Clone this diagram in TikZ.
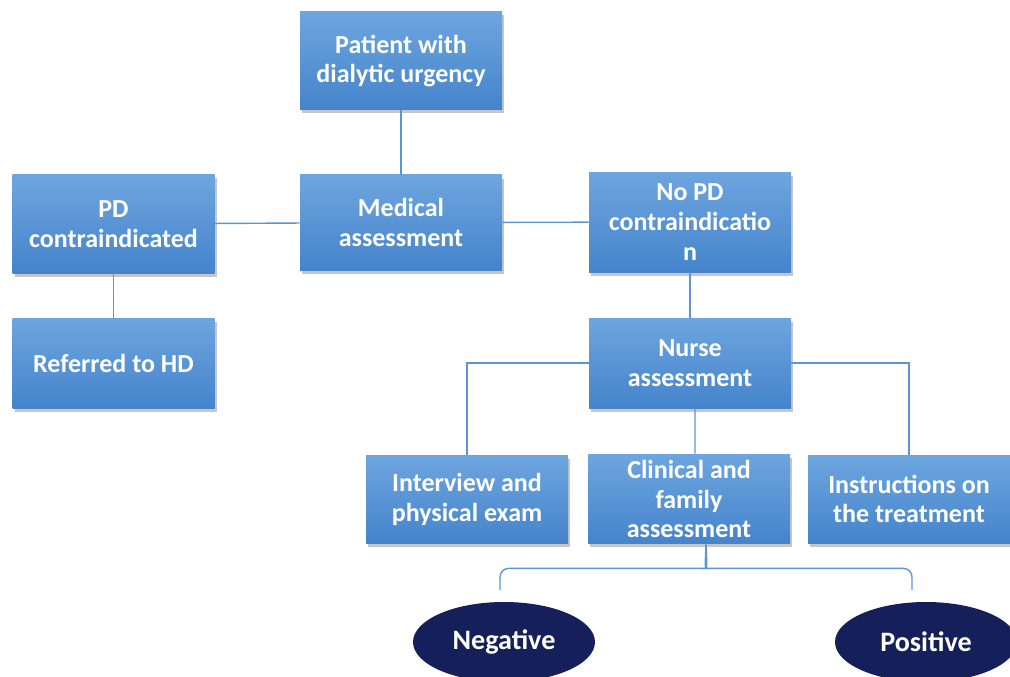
\documentclass[tikz,border=0pt]{standalone}
\usepackage{fontspec}
\setmainfont{Carlito}
\usetikzlibrary{shadows,shapes.geometric,calc}
\definecolor{boxtop}{HTML}{6DA5DF}
\definecolor{boxbot}{HTML}{4584CB}
\definecolor{linkblue}{HTML}{5B95D5}
\definecolor{navy}{HTML}{15205A}
\begin{document}
\begin{tikzpicture}[
    box/.style={rectangle, top color=boxtop, bottom color=boxbot, draw=none, minimum width=4.04cm, minimum height=1.9cm, align=center, text=white, font=\fontsize{14.8}{17}\selectfont\bfseries, drop shadow={opacity=0.45, shadow xshift=0.04cm, shadow yshift=-0.07cm}},
    outcome/.style={ellipse, fill=navy, draw=none, minimum width=3.64cm, minimum height=1.6cm, text=white, font=\fontsize{16}{19}\selectfont\bfseries},
    link/.style={draw=linkblue, line width=0.8pt}
]
    \useasboundingbox (0,0) rectangle (20.2,-13.54);

    % Einstieg
    \node[box, minimum height=1.96cm] (patient) at (8.02,-1.22) {Patient with\\dialytic urgency};
    \node[box] (medical) at (8.02,-4.45) {Medical\\assessment};

    % links
    \node[box, minimum height=1.96cm] (pdci) at (2.27,-4.48) {PD\\contraindicated};
    \node[box, minimum height=1.8cm] (referred) at (2.27,-7.26) {Referred to HD};

    % rechts
    \node[box, minimum height=2cm] (nopd) at (13.8,-4.44) {No PD\\contraindicatio\\n};
    \node[box, minimum height=1.8cm] (nurse) at (13.8,-7.26) {Nurse\\assessment};

    % Pflege-Zweige
    \node[box, minimum height=1.76cm] (interview) at (9.34,-9.98) {Interview and\\physical exam};
    \node[box, minimum height=1.76cm] (clinical) at (13.78,-9.98) {Clinical and\\family\\assessment};
    \node[box, minimum height=1.76cm] (instructions) at (18.18,-9.98) {Instructions on\\the treatment};

    % Ergebnis
    \node[outcome] (negative) at (10.08,-12.84) {Negative};
    \node[outcome] (positive) at (18.52,-12.84) {Positive};
    \coordinate (braceL) at (10.0,-11.8);
    \coordinate (braceR) at (18.24,-11.8);
    \coordinate (braceTip) at ([xshift=0.34cm]clinical.south);

    % Linien
    \draw[link] (patient) -- (medical);
    \draw[link] (pdci) -- (medical);
    \draw[link] (medical) -- (nopd);
    \draw[link] (pdci) -- (referred);
    \draw[link] (nopd) -- (nurse);
    \draw[link] (nurse.west) -| (interview.north);
    \draw[link] (nurse.east) -| (instructions.north);
    \draw[link] ([xshift=0.1cm]nurse.south) -- ([xshift=0.12cm]clinical.north);

    % Klammer
    \draw[link, rounded corners=5pt] (braceL) |- ($(braceTip)+(-0.16,-0.48)$) .. controls ($(braceTip)+(-0.02,-0.48)$) .. (braceTip);
    \draw[link, rounded corners=5pt] (braceR) |- ($(braceTip)+(0.16,-0.48)$) .. controls ($(braceTip)+(0.02,-0.48)$) .. (braceTip);
\end{tikzpicture}
\end{document}
